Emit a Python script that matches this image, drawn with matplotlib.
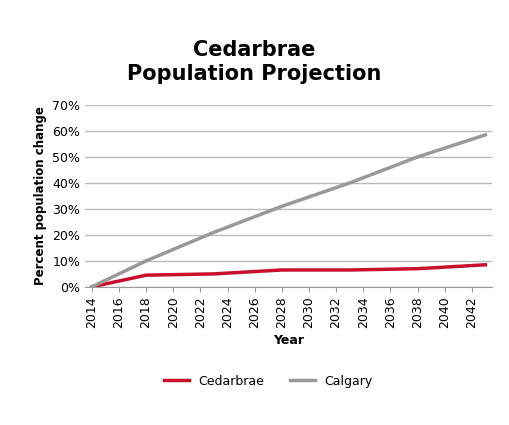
import matplotlib
matplotlib.use("Agg")
import matplotlib.pyplot as plt
from matplotlib.ticker import PercentFormatter

years = [2014, 2018, 2023, 2028, 2033, 2038, 2043]
cedarbrae = [0.0, 4.5, 5.0, 6.5, 6.5, 7.0, 8.5]
calgary = [0.0, 10.0, 21.0, 31.0, 40.0, 50.0, 58.5]
xticks = list(range(2014, 2043, 2))

fig = plt.figure(figsize=(5.09, 4.25), dpi=100)
ax = fig.add_axes([0.167, 0.325, 0.8, 0.428])
ax.plot(years, cedarbrae, color="#C8102E", lw=2.5, label="Cedarbrae")
ax.plot(years, calgary, color="#999999", lw=2.5, label="Calgary")
ax.set_xlim(2013.5, 2043.5)
ax.set_ylim(0, 70)
ax.set_yticks(range(0, 71, 10))
ax.yaxis.set_major_formatter(PercentFormatter(decimals=0))
ax.set_xticks(xticks)
ax.set_xticklabels([str(x) for x in xticks], rotation=90)
ax.grid(axis="y", color="#BBBBBB", lw=1)
ax.set_axisbelow(True)
for s in ["top", "right", "left"]:
    ax.spines[s].set_visible(False)
ax.spines["bottom"].set_color("#999999")
ax.tick_params(axis="y", length=0, labelsize=9)
ax.tick_params(axis="x", labelsize=9, color="#999999")
ax.set_xlabel("Year", fontsize=9, fontweight="bold")
ax.set_ylabel("Percent population change", fontsize=8.5, fontweight="bold")
fig.suptitle("Cedarbrae\nPopulation Projection", fontsize=15, fontweight="bold", y=0.905)
ax.legend(loc="upper center", bbox_to_anchor=(0.45, -0.42), ncol=2, frameon=False, fontsize=9)
fig.savefig("out.png", dpi=100)
